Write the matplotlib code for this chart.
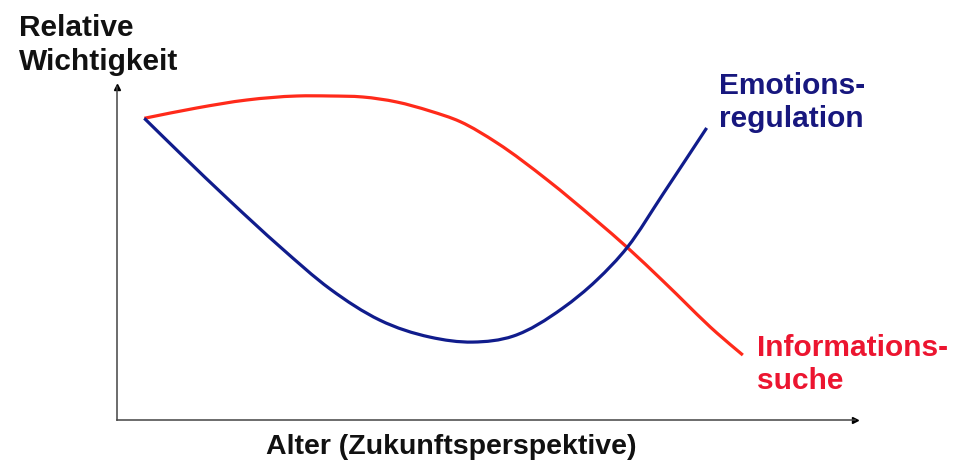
"""
Relative Wichtigkeit von Emotionsregulation und Informationssuche
ueber das Alter (Zukunftsperspektive).
"""
import matplotlib
matplotlib.use('Agg')
import numpy as np
import matplotlib.pyplot as plt
from matplotlib.path import Path
from matplotlib.patches import PathPatch

# Data (x: Alter 0-100, y: relative Wichtigkeit 0-100)
emo_x = [3.7, 8.5, 15.3, 22.1, 28.9, 35.6, 42.4, 48.2, 53.7, 60.4, 65.0, 69.2, 74.0, 79.9]
emo_y = [90.6, 80.2, 65.8, 52.0, 39.3, 30.0, 24.9, 23.4, 25.2, 33.6, 42.0, 52.0, 67.9, 87.7]

info_x = [3.7, 10.8, 17.6, 24.4, 28.9, 33.3, 37.9, 42.4, 46.5, 51.5, 58.3, 65.0, 69.2, 74.0, 81.3, 84.8]
info_y = [90.6, 93.7, 96.1, 97.3, 97.3, 97.0, 95.5, 92.8, 89.6, 83.2, 72.1, 59.8, 51.7, 41.7, 26.1, 19.5]

y_label = 'Relative\nWichtigkeit'
x_label = 'Alter (Zukunftsperspektive)'
emo_label = 'Emotions-\nregulation'
info_label = 'Informations-\nsuche'

# Colours
blue_line = '#101c8c'
blue_text = '#17177e'
red_line = '#ff2a1a'
red_text = '#ec1530'
axis_col = '#444444'


def smooth_path(xs, ys):
    """
    Smooth bezier path (cubic Hermite in x) through the read points.
    """
    x = np.asarray(xs, float)
    y = np.asarray(ys, float)
    h = np.diff(x)
    d = np.diff(y) / h
    m = np.empty_like(y)
    m[0], m[-1] = d[0], d[-1]
    m[1:-1] = (d[:-1] * h[1:] + d[1:] * h[:-1]) / (h[:-1] + h[1:])
    verts = [(x[0], y[0])]
    codes = [Path.MOVETO]
    for i in range(len(x) - 1):
        verts += [(x[i] + h[i] / 3, y[i] + m[i] * h[i] / 3),
                  (x[i + 1] - h[i] / 3, y[i + 1] - m[i + 1] * h[i] / 3),
                  (x[i + 1], y[i + 1])]
        codes += [Path.CURVE4] * 3
    return Path(verts, codes)


plt.rcParams['font.family'] = ['Liberation Sans', 'DejaVu Sans']

fig = plt.figure(figsize=(9.59, 4.64), dpi=100)
ax = fig.add_axes([117 / 959, 43 / 464, 738 / 959, 333 / 464])
ax.set_xlim(0, 100)
ax.set_ylim(0, 100)

# Curves
ax.add_patch(PathPatch(smooth_path(info_x, info_y), fill=False,
                       edgecolor=red_line, lw=2.3, capstyle='butt'))
ax.add_patch(PathPatch(smooth_path(emo_x, emo_y), fill=False,
                       edgecolor=blue_line, lw=2.3, capstyle='butt'))

# Axes as arrows
for side in ['top', 'right']:
    ax.spines[side].set_visible(False)
for side in ['left', 'bottom']:
    ax.spines[side].set_color(axis_col)
    ax.spines[side].set_linewidth(1.1)
ax.plot(1, 0, '>', color='black', ms=5, transform=ax.transAxes, clip_on=False)
ax.plot(0, 1, '^', color='black', ms=5, transform=ax.transAxes, clip_on=False)
ax.set_xticks([])
ax.set_yticks([])

# Curve labels
ax.text(81.6, 104.7, emo_label, color=blue_text, fontsize=21.5,
        fontweight='bold', va='top', ha='left', linespacing=1.22,
        clip_on=False)
ax.text(86.7, 26.0, info_label, color=red_text, fontsize=21.5,
        fontweight='bold', va='top', ha='left', linespacing=1.22,
        clip_on=False)

# Axis titles
fig.text(19 / 959, 1 - 14 / 464, y_label, fontsize=21.5, fontweight='bold',
         va='top', ha='left', linespacing=1.25, color='#111111')
fig.text(451 / 959, 1 - 434 / 464, x_label, fontsize=20.5, fontweight='bold',
         va='top', ha='center', color='#111111')

fig.savefig('out.png', dpi=100)
